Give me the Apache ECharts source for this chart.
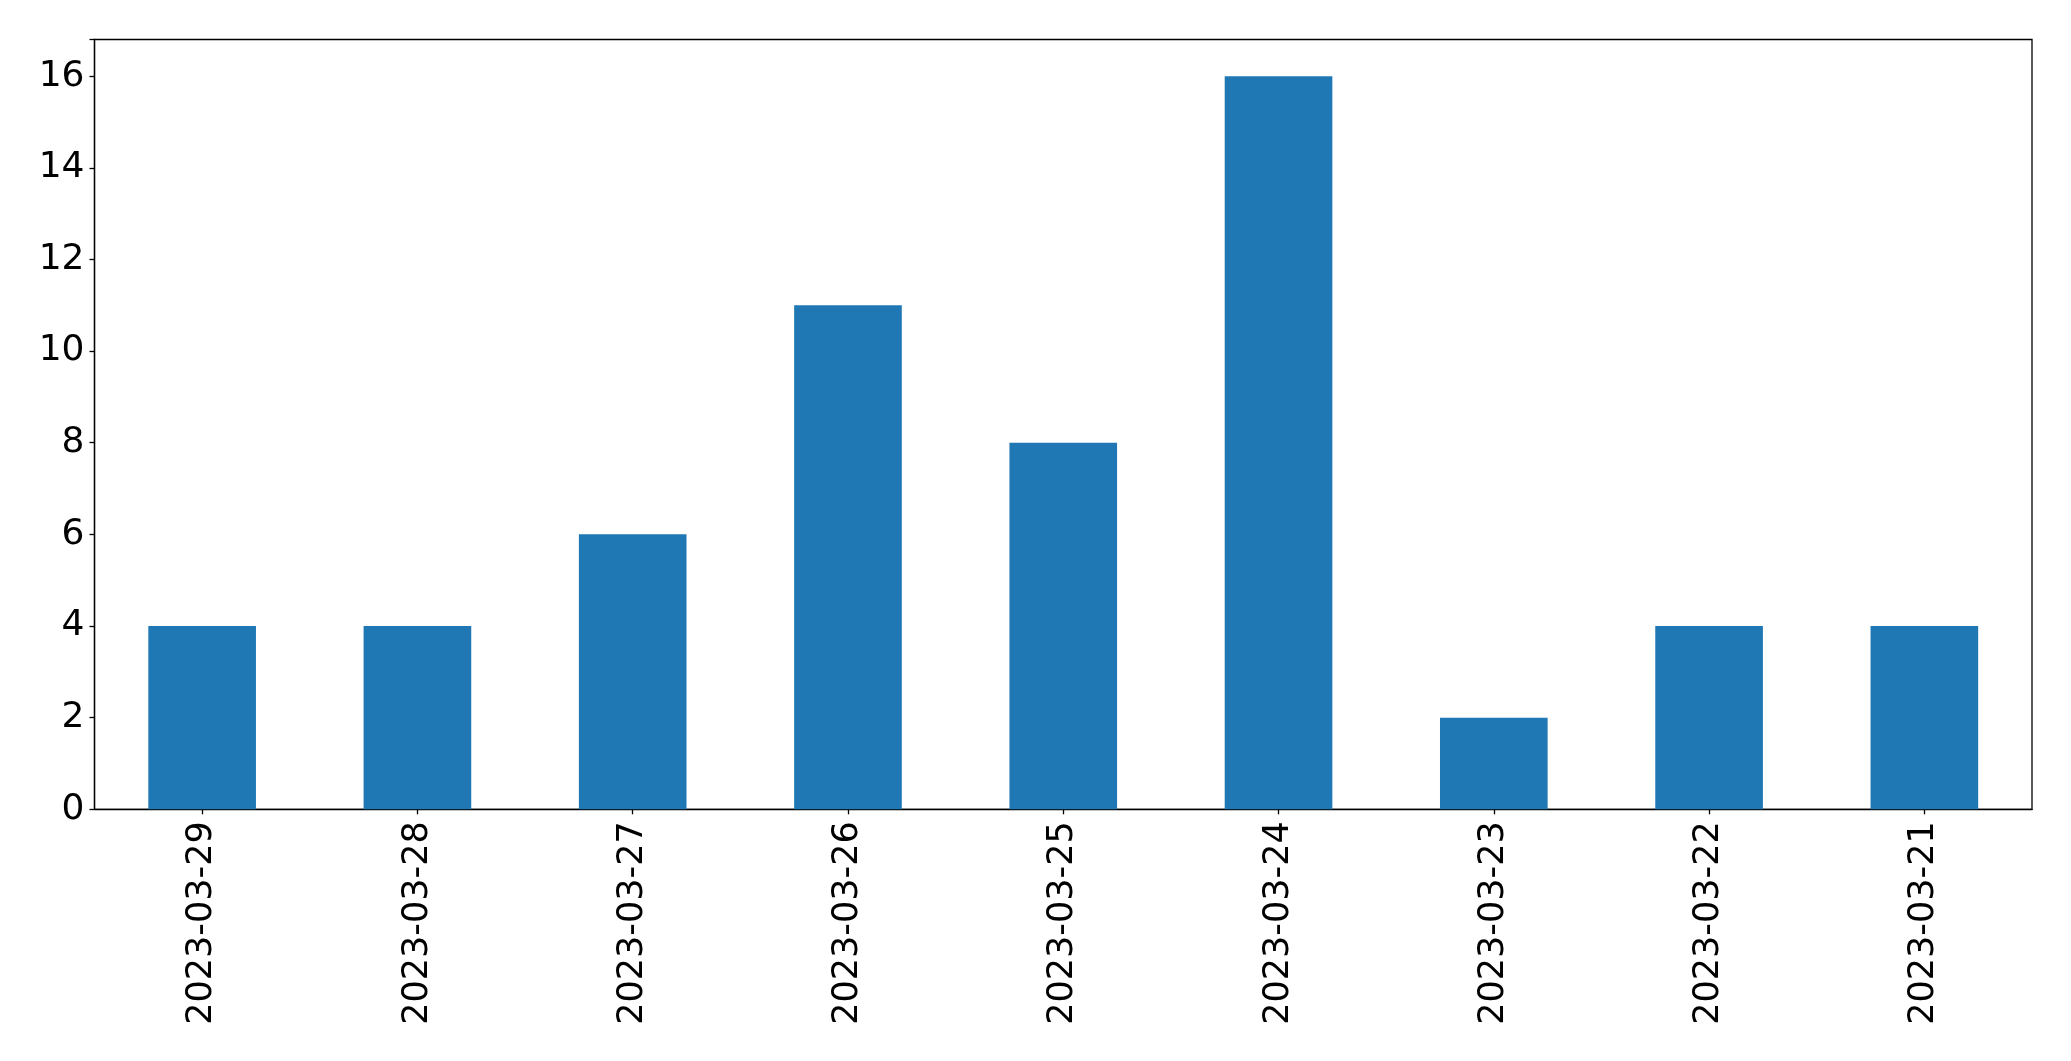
<!DOCTYPE html>
<html>
<head>
<meta charset="utf-8">
<script src="https://cdn.jsdelivr.net/npm/echarts@6/dist/echarts.min.js"></script>
<style>
html,body{margin:0;padding:0;background:#fff;}
#chart{width:2071px;height:1061px;}
</style>
</head>
<body>
<div id="chart"></div>
<script>
const categories = ["2023-03-29","2023-03-28","2023-03-27","2023-03-26","2023-03-25","2023-03-24","2023-03-23","2023-03-22","2023-03-21"];
const values = [4, 4, 6, 11, 8, 16, 2, 4, 4];
const yTicks = [0, 2, 4, 6, 8, 10, 12, 14, 16];

const chart = echarts.init(document.getElementById('chart'));
const font = 'DejaVu Sans';
chart.setOption({
  animation: false,
  backgroundColor: '#ffffff',
  grid: {
    left: 94.5, top: 39.5, right: 39, bottom: 251.7,
    show: true, borderColor: '#000', borderWidth: 1.3, backgroundColor: 'transparent'
  },
  xAxis: {
    type: 'category',
    data: categories,
    boundaryGap: true,
    axisLine: { show: true, lineStyle: { color: '#000', width: 1.3 } },
    axisTick: { show: true, alignWithLabel: true, length: 5, lineStyle: { color: '#000', width: 1.3 } },
    axisLabel: { rotate: 90, fontFamily: font, fontSize: 35, color: '#000', margin: 12, interval: 0 },
    splitLine: { show: false }
  },
  yAxis: {
    type: 'value',
    min: 0, max: 16.8, interval: 2,
    axisLine: { show: true, lineStyle: { color: '#000', width: 1.3 } },
    axisTick: { show: true, length: 5, lineStyle: { color: '#000', width: 1.3 } },
    axisLabel: {
      fontFamily: font, fontSize: 36, color: '#000', margin: 10,
      formatter: v => (yTicks.indexOf(v) >= 0 ? String(v) : '')
    },
    splitLine: { show: false }
  },
  series: [{
    type: 'bar',
    data: values,
    barWidth: '50%',
    itemStyle: { color: '#1f77b4' }
  }]
});
</script>
</body>
</html>
